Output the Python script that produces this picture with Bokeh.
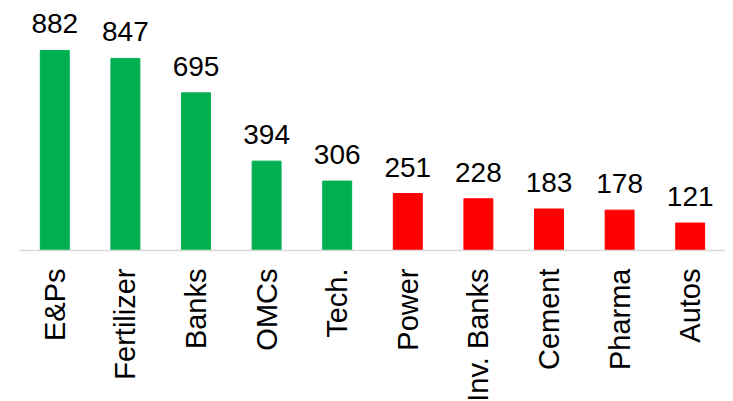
import math
from bokeh.plotting import figure
from bokeh.models import ColumnDataSource, LabelSet, Range1d
from bokeh.core.properties import value
from bokeh.embed import file_html
from bokeh.resources import INLINE

categories = ["E&Ps", "Fertilizer", "Banks", "OMCs", "Tech.", "Power", "Inv. Banks", "Cement", "Pharma", "Autos"]
values = [882, 847, 695, 394, 306, 251, 228, 183, 178, 121]
colors = ["#00B050"] * 5 + ["#FF0000"] * 5
labels = [str(v) for v in values]

source = ColumnDataSource(dict(cat=categories, val=values, color=colors, label=labels))

p = figure(x_range=categories, y_range=Range1d(0, 1067),
           frame_width=706, frame_height=242,
           output_backend="svg", toolbar_location=None,
           min_border_left=19, min_border_right=0, min_border_top=8, min_border_bottom=0)

p.vbar(x="cat", top="val", width=0.41, color="color", source=source)

lbl = LabelSet(x="cat", y="val", text="label", source=source,
               text_align="center", text_baseline="alphabetic", y_offset=17,
               text_font=value("Liberation Sans"), text_font_size=value("28px"), text_color="black")
p.add_layout(lbl)

p.yaxis.visible = False
p.xgrid.grid_line_color = None
p.ygrid.grid_line_color = None
p.outline_line_color = None

ax = p.xaxis[0]
ax.axis_line_color = "#D9D9D9"
ax.axis_line_width = 1.5
ax.major_tick_line_color = None
ax.minor_tick_line_color = None
ax.major_tick_out = 0
ax.major_tick_in = 0
ax.major_label_standoff = 18
ax.major_label_orientation = math.pi / 2
ax.major_label_text_font = "Liberation Sans"
ax.major_label_text_font_size = "29px"
ax.major_label_text_color = "black"
p.x_range.range_padding = 0

open("out.html", "w").write(file_html(p, INLINE))
